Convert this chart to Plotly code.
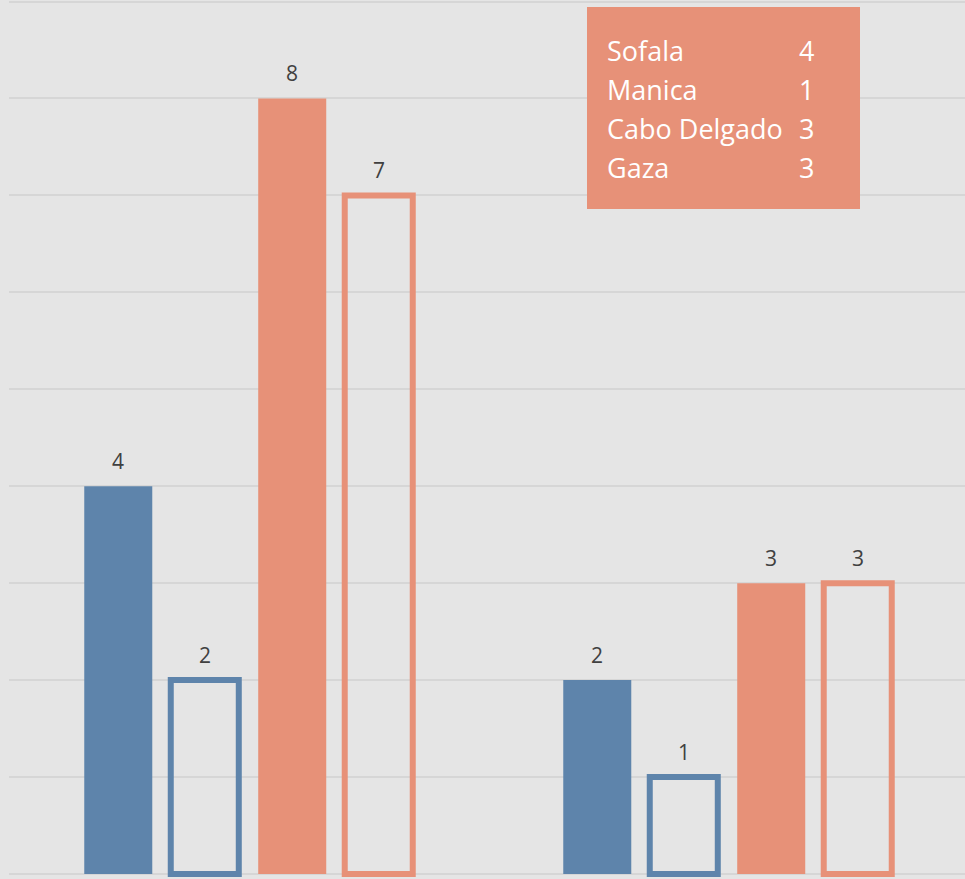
import plotly.graph_objects as go

# Two groups of four bars each
groups = [0, 1]
solid_blue = [4, 2]
outline_blue = [2, 1]
solid_orange = [8, 3]
outline_orange = [7, 3]

# Text box contents
box_regions = ["Sofala", "Manica", "Cabo Delgado", "Gaza"]
box_counts = [4, 1, 3, 3]

BLUE = "rgb(94,132,171)"
ORANGE = "rgb(231,145,120)"
BG = "rgb(229,229,229)"
GRID = "rgb(214,214,214)"
LABEL = "rgb(64,64,64)"

W, H = 965, 879
ML = 9
PLOT_W = W - ML

BAR_W = 0.142
CENTERS = [-0.2719, -0.0913, 0.0913, 0.2719]

series = [
    (solid_blue, BLUE, True),
    (outline_blue, BLUE, False),
    (solid_orange, ORANGE, True),
    (outline_orange, ORANGE, False),
]

fig = go.Figure()
for (vals, color, filled), c in zip(series, CENTERS):
    fig.add_trace(go.Bar(
        x=groups, y=vals,
        width=BAR_W, offset=c - BAR_W / 2,
        marker=dict(
            color=color if filled else "rgba(0,0,0,0)",
            line=dict(color=color, width=0 if filled else 6),
        ),
        showlegend=False, hoverinfo="skip",
    ))
    for g, v in zip(groups, vals):
        fig.add_annotation(
            x=g + c, y=v, text=str(v), showarrow=False,
            xref="x", yref="y", yanchor="bottom", yshift=9,
            font=dict(family="Open Sans", size=21, color=LABEL),
        )

# Text box in the upper right
def px_x(px):
    return (px - ML) / PLOT_W

def px_y(py):
    return (H - py) / H

fig.add_shape(type="rect", xref="paper", yref="paper",
              x0=px_x(587), x1=px_x(860), y0=px_y(209), y1=px_y(7),
              fillcolor=ORANGE, line=dict(width=0), layer="above")
row_y = [51, 90, 129, 167]
for name, cnt, py in zip(box_regions, box_counts, row_y):
    fig.add_annotation(x=px_x(605), y=px_y(py), xref="paper", yref="paper",
                       text=name, showarrow=False, xanchor="left", yanchor="middle",
                       font=dict(family="Open Sans", size=27, color="white"))
    fig.add_annotation(x=px_x(806), y=px_y(py), xref="paper", yref="paper",
                       text=str(cnt), showarrow=False, xanchor="center", yanchor="middle",
                       font=dict(family="Open Sans", size=27, color="white"))

unit = (874 - 1.5) / 9
fig.update_layout(
    width=W, height=H,
    margin=dict(l=ML, r=0, t=0, b=0),
    paper_bgcolor=BG, plot_bgcolor=BG,
    barmode="overlay",
    xaxis=dict(range=[-0.5, -0.5 + PLOT_W / 479], showticklabels=False,
               showgrid=False, zeroline=False, ticks=""),
    yaxis=dict(range=[-(H - 874) / unit, 9 + 1.5 / unit], dtick=1,
               showticklabels=False, showgrid=True, gridcolor=GRID, gridwidth=2,
               zeroline=False, ticks=""),
)

fig.write_html("out.html")
